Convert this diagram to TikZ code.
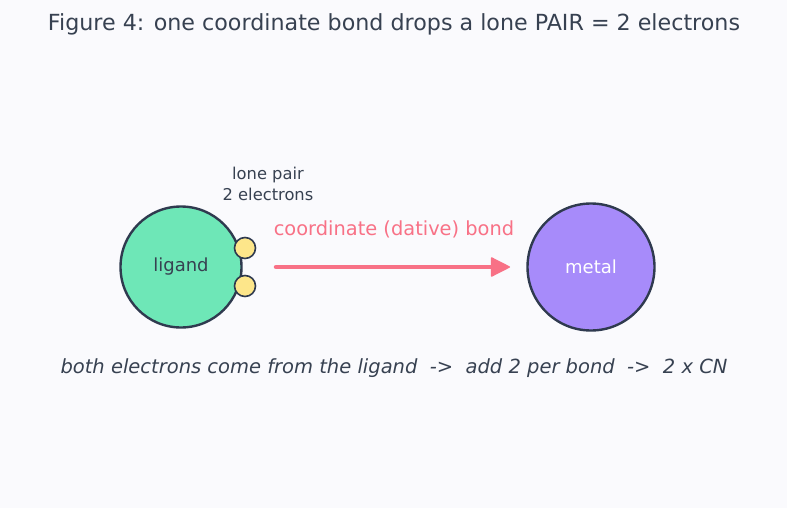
\documentclass[tikz,border=0pt]{standalone}
\usepackage{fontspec}
\setmainfont{DejaVu Sans}
\usetikzlibrary{arrows.meta}
\definecolor{bg}{HTML}{FAFAFD}
\definecolor{ink}{HTML}{374151}
\definecolor{edge}{HTML}{2F3A4F}
\definecolor{lig}{HTML}{6EE7B7}
\definecolor{met}{HTML}{A78BFA}
\definecolor{elec}{HTML}{FDE68A}
\definecolor{bond}{HTML}{F87186}
\tikzset{
  atom/.style={circle,draw=edge,line width=2.4pt,inner sep=0pt,font=\fontsize{18}{21}\selectfont},
  electron/.style={circle,draw=edge,fill=elec,line width=1.6pt,minimum size=21pt,inner sep=0pt},
  lbl/.style={text=ink,inner sep=0pt}
}
\begin{document}
\begin{tikzpicture}[x=1pt,y=-1pt]
\fill[bg] (0,0) rectangle (787,508);
\useasboundingbox (0,0) rectangle (787,508);
\node[lbl,font=\fontsize{22.2}{26}\selectfont] (title) at (394,24) {Figure 4: one coordinate bond drops a lone PAIR = 2 electrons};
\node[atom,fill=lig,minimum size=121pt,text=ink] (ligand) at (181,267) {\raisebox{-1pt}{ligand}};
\node[atom,fill=met,minimum size=127pt,text=white] (metal) at (591,267) {metal};
\node[electron] (e1) at (245,248) {};
\node[electron] (e2) at (245,286) {};
\node[lbl,align=center,font=\fontsize{16.3}{21}\selectfont] (lp) at (268,184) {lone pair\\2 electrons};
\node[text=bond,inner sep=0pt,font=\fontsize{19.4}{23}\selectfont] (bl) at (394,229) {coordinate (dative) bond};
\coordinate (a1) at (276,267);
\coordinate (a2) at (510,267);
\draw[bond,line width=4.5pt,line cap=round,-{Triangle[length=20pt,width=20pt,line join=round,line width=1.5pt]}] (a1) -- (a2);
\node[lbl,font=\fontsize{19.5}{23}\selectfont\itshape] (foot) at (394,368) {both electrons come from the ligand \ -> \ add 2 per bond \ -> \ 2 x CN};
\end{tikzpicture}
\end{document}
